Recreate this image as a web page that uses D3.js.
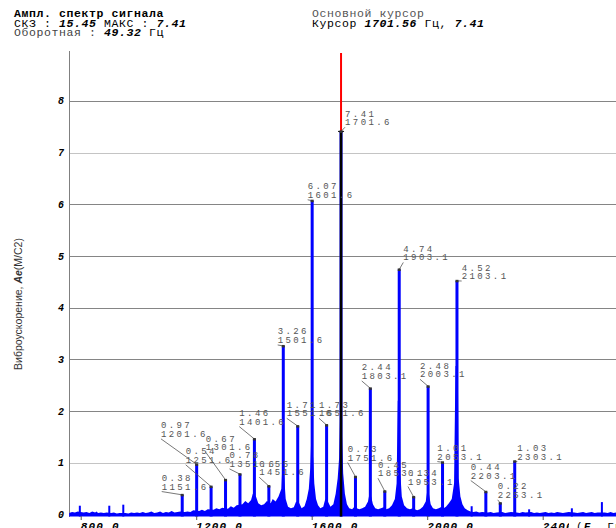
<!DOCTYPE html>
<html>
<head>
<meta charset="utf-8">
<script src="https://cdn.jsdelivr.net/npm/d3@7"></script>
<style>
  body { margin: 0; background: #fff; }
  svg { display: block; }
</style>
</head>
<body>
<script>
var width = 616,
    height = 528;

// labelled harmonics (Hz, m/s2)
var peakFreq = [1151.6, 1201.6, 1251.6, 1301.6, 1351.6, 1401.6, 1451.6, 1501.6, 1551.6, 1601.6, 1651.6, 1701.6,
                1751.6, 1803.1, 1853.1, 1903.1, 1953.1, 2003.1, 2053.1, 2103.1, 2203.1, 2253.1, 2303.1];
var peakAmp = [0.38, 0.97, 0.54, 0.67, 0.78, 1.46, 0.55, 3.26, 1.71, 6.07, 1.73, 7.41,
               0.73, 2.44, 0.45, 4.74, 0.34, 2.48, 1.01, 4.52, 0.44, 0.22, 1.03];

// small unlabelled lines
var minorFreq = [797, 899, 947.5, 2154, 2353, 2501, 2605];
var minorAmp = [0.17, 0.17, 0.19, 0.16, 0.10, 0.12, 0.24];

// noise floor + skirts of the big lines
var floorFreq = [760, 770, 780, 790, 800, 810, 820, 830, 840, 850, 855, 860, 870, 880, 890, 905, 915, 925, 935,
                 955, 965, 975, 985, 995, 1005, 1015, 1025, 1035, 1045, 1055, 1065, 1075, 1085, 1095, 1105, 1115,
                 1125, 1135, 1145, 1160, 1170, 1180, 1190, 1210, 1220, 1230, 1240, 1260, 1270, 1280, 1290, 1310,
                 1320, 1330, 1340, 1360, 1370, 1380, 1390, 1396, 1407, 1415, 1425, 1435, 1445, 1458, 1465, 1475,
                 1485, 1495, 1498, 1505, 1510, 1518, 1528, 1538, 1546, 1557, 1565, 1575, 1583, 1590, 1595, 1598,
                 1605, 1609, 1615, 1622, 1630, 1640, 1647, 1656, 1665, 1675, 1683, 1690, 1695, 1698, 1705, 1709,
                 1715, 1722, 1730, 1740, 1748, 1756, 1765, 1775, 1785, 1795, 1800, 1806, 1812, 1820, 1830, 1840,
                 1849, 1858, 1868, 1878, 1888, 1894, 1898, 1905, 1907, 1912, 1920, 1930, 1940, 1950, 1957, 1965,
                 1975, 1985, 1995, 2000, 2006, 2012, 2020, 2030, 2040, 2050, 2057, 2065, 2075, 2085, 2093, 2098,
                 2106, 2109, 2115, 2122, 2130, 2140, 2150, 2160, 2170, 2180, 2190, 2210, 2220, 2230, 2240, 2260,
                 2270, 2280, 2290, 2310, 2320, 2330, 2340, 2360, 2370, 2380, 2390, 2400, 2410, 2420, 2430, 2440,
                 2450, 2460, 2470, 2480, 2490, 2510, 2520, 2530, 2540, 2550, 2560, 2570, 2580, 2590, 2615, 2625,
                 2635, 2645, 2655];
var floorAmp = [0.03, 0.05, 0.04, 0.06, 0.05, 0.04, 0.05, 0.03, 0.06, 0.04, 0.06, 0.03, 0.04, 0.03, 0.04, 0.03, 0.04, 0.02, 0.03,
                0.03, 0.02, 0.04, 0.03, 0.04, 0.03, 0.05, 0.03, 0.04, 0.06, 0.03, 0.04, 0.06, 0.03, 0.05, 0.04, 0.07,
                0.04, 0.05, 0.06, 0.05, 0.06, 0.05, 0.08, 0.07, 0.09, 0.07, 0.10, 0.09, 0.12, 0.10, 0.13, 0.11,
                0.16, 0.13, 0.18, 0.20, 0.26, 0.22, 0.28, 0.40, 0.35, 0.22, 0.18, 0.20, 0.26, 0.22, 0.30, 0.25,
                0.35, 0.50, 0.90, 0.70, 0.30, 0.15, 0.12, 0.14, 0.25, 0.22, 0.12, 0.16, 0.30, 0.50, 0.90, 1.40,
                1.10, 0.60, 0.30, 0.18, 0.12, 0.15, 0.30, 0.25, 0.15, 0.20, 0.40, 0.70, 1.10, 1.80, 1.50, 0.80,
                0.40, 0.20, 0.12, 0.10, 0.15, 0.12, 0.10, 0.12, 0.15, 0.25, 0.40, 0.35, 0.20, 0.12, 0.10, 0.12,
                0.14, 0.10, 0.12, 0.18, 0.30, 0.60, 2.20, 2.20, 0.80, 0.35, 0.18, 0.12, 0.10, 0.12, 0.10, 0.08,
                0.10, 0.15, 0.25, 0.45, 0.40, 0.20, 0.12, 0.10, 0.12, 0.15, 0.12, 0.15, 0.22, 0.30, 0.60, 2.87,
                2.87, 0.70, 0.35, 0.20, 0.12, 0.08, 0.06, 0.05, 0.06, 0.04, 0.05, 0.04, 0.05, 0.03, 0.04, 0.05,
                0.03, 0.04, 0.05, 0.04, 0.03, 0.05, 0.04, 0.05, 0.03, 0.04, 0.03, 0.04, 0.05, 0.03, 0.04, 0.03,
                0.05, 0.04, 0.03, 0.04, 0.05, 0.04, 0.03, 0.04, 0.05, 0.03, 0.04, 0.05, 0.03, 0.04, 0.04, 0.03,
                0.05, 0.03, 0.04];

// label placement, px offset of the label from the line top (left edge, second baseline)
var labelDx = [-20.5, -35.7, -25.4, -19.8, -10.5, -15.1, -9.6, -5.6, -11, -4.5, -7.6, 4,
               -7.8, -8.6, -6.8, 4.1, -5.7, -8.1, -5.2, 4.7, -15.1, -2.6, 2.6];
var labelDy = [-5.3, -27.5, -23.8, -29.6, -7.3, -14.4, -10.8, -3, -9.8, -2.9, -8.8, -6.2,
               -16.2, -9.4, -15, -9, -12.4, -9, -2.7, -1.8, -13.2, -5.3, -1.7];

var yTicks = [0, 1, 2, 3, 4, 5, 6, 7, 8];
var xTicks = [800, 1200, 1600, 2000, 2400];
var cursorFreq = 1701.6, cursorAmp = 7.41;

var mono = "'Liberation Mono', 'Courier New', monospace",
    sans = "'Liberation Sans', Arial, sans-serif";

var x = d3.scaleLinear().domain([800, 2400]).range([80.7, 542.7]);
var y = d3.scaleLinear().domain([0, 8]).range([514.5, 100.9]);
var plotLeft = 69, plotTop = 53, plotRight = width;

var svg = d3.select("body").append("svg")
    .attr("width", width)
    .attr("height", height);

// header
var head = svg.append("g")
    .attr("font-family", mono)
    .attr("font-size", 11.5)
    .attr("letter-spacing", 0.6)
    .attr("xml:space", "preserve")
    .style("white-space", "pre");

function line(xp, yp, parts) {
    var t = head.append("text").attr("x", xp).attr("y", yp);
    parts.forEach(function (p) {
        t.append("tspan")
            .attr("font-weight", p[1] ? "bold" : "normal")
            .attr("font-style", p[2] ? "italic" : "normal")
            .attr("fill", p[3] || "#000")
            .text(p[0]);
    });
}
line(14, 16.5, [["Ампл. спектр  сигнала", 1]]);
line(14, 26.5, [["СКЗ : "], ["15.45", 1, 1], [" МАКС : "], ["7.41", 1, 1]]);
line(14, 36, [["Оборотная : ", 0, 0, "#444"], ["49.32", 1, 1], [" Гц"]]);
line(312, 16.5, [["Основной  курсор", 0, 0, "#555"]]);
line(312, 26.5, [["Курсор  "], ["1701.56", 1, 1], [" Гц,  "], ["7.41", 1, 1]]);

// grid
svg.append("g").selectAll("line")
    .data(yTicks.filter(function (d) { return d > 0; }))
    .enter().append("line")
    .attr("x1", plotLeft).attr("x2", plotRight)
    .attr("y1", function (d) { return Math.round(y(d)) + 0.5; })
    .attr("y2", function (d) { return Math.round(y(d)) + 0.5; })
    .attr("stroke", function (d) { return (d == 1 || d == 7) ? "#c4c4c4" : "#858585"; })
    .attr("stroke-width", 1);

svg.append("line")
    .attr("x1", plotLeft + 0.5).attr("x2", plotLeft + 0.5)
    .attr("y1", 51).attr("y2", 517)
    .attr("stroke", "#808080");

// y tick labels
svg.append("g").selectAll("text")
    .data(yTicks)
    .enter().append("text")
    .attr("x", 64)
    .attr("y", function (d) { return y(d) + 3.5; })
    .attr("text-anchor", "end")
    .attr("font-family", mono)
    .attr("font-size", 10)
    .attr("font-weight", "bold")
    .attr("font-style", "italic")
    .text(function (d) { return d; });

// y title
svg.append("text")
    .attr("transform", "translate(22,304) rotate(-90)")
    .attr("text-anchor", "middle")
    .attr("font-family", sans)
    .attr("font-size", 10.5)
    .attr("fill", "#333")
    .call(function (t) {
        t.append("tspan").text("Виброускорение, ");
        t.append("tspan").attr("font-weight", "bold").attr("font-style", "italic").text("Ae");
        t.append("tspan").text("(M/C2)");
    });

// spectrum
var floor = floorFreq.map(function (f, i) { return [f, floorAmp[i]]; });
var area = d3.area()
    .x(function (d) { return x(d[0]); })
    .y0(y(0) + 2)
    .y1(function (d) { return y(d[1]); });

var spec = svg.append("g");
spec.append("path")
    .datum(floor)
    .attr("d", area)
    .attr("fill", "#0000ff");

spec.selectAll(".minor")
    .data(minorFreq)
    .enter().append("rect")
    .attr("class", "minor")
    .attr("x", function (d) { return x(d) - 1; })
    .attr("width", 2)
    .attr("y", function (d, i) { return y(minorAmp[i]); })
    .attr("height", function (d, i) { return y(0) + 2 - y(minorAmp[i]); })
    .attr("fill", "#0000ff");

spec.selectAll(".peak")
    .data(peakFreq)
    .enter().append("rect")
    .attr("class", "peak")
    .attr("x", function (d) { return x(d) - 1.5; })
    .attr("width", 3)
    .attr("y", function (d, i) { return y(peakAmp[i]); })
    .attr("height", function (d, i) { return y(0) + 2 - y(peakAmp[i]); })
    .attr("fill", "#0000ff");

// cursor
svg.append("line")
    .attr("x1", x(cursorFreq)).attr("x2", x(cursorFreq))
    .attr("y1", plotTop).attr("y2", y(cursorAmp))
    .attr("stroke", "#ff0000").attr("stroke-width", 2);
svg.append("line")
    .attr("x1", x(cursorFreq)).attr("x2", x(cursorFreq))
    .attr("y1", y(cursorAmp)).attr("y2", y(0) + 2)
    .attr("stroke", "#000").attr("stroke-width", 2.5);
svg.append("line")
    .attr("x1", x(cursorFreq) - 3).attr("x2", x(cursorFreq) + 3)
    .attr("y1", y(cursorAmp)).attr("y2", y(cursorAmp))
    .attr("stroke", "#000").attr("stroke-width", 1);

// peak labels
var lab = svg.append("g");
peakFreq.forEach(function (f, i) {
    var px = x(f), py = y(peakAmp[i]);
    var lx = px + labelDx[i], ly = py + labelDy[i];
    lab.append("line")
        .attr("x1", lx).attr("y1", ly + 2)
        .attr("x2", px).attr("y2", py)
        .attr("stroke", "#555").attr("stroke-width", 0.8);
    lab.append("rect")
        .attr("x", px - 1.5).attr("y", py - 1)
        .attr("width", 3).attr("height", 2.5)
        .attr("fill", "#333");
    var t = lab.append("text")
        .attr("font-family", mono)
        .attr("font-size", 9)
        .attr("letter-spacing", 2.4)
        .attr("fill", "#555");
    t.append("tspan").attr("x", lx).attr("y", ly - 8.5).text(peakAmp[i].toFixed(2));
    t.append("tspan").attr("x", lx).attr("y", ly).text(f.toFixed(1));
});

// x axis
svg.append("g").selectAll("line")
    .data(xTicks)
    .enter().append("line")
    .attr("x1", function (d) { return x(d) + 0.5; })
    .attr("x2", function (d) { return x(d) + 0.5; })
    .attr("y1", 516).attr("y2", 520)
    .attr("stroke", "#555");

svg.append("g").selectAll("text")
    .data(xTicks)
    .enter().append("text")
    .attr("x", function (d) { return x(d); })
    .attr("y", 530)
    .attr("font-family", mono)
    .attr("font-size", 11)
    .attr("letter-spacing", 1.2)
    .attr("font-weight", "bold")
    .attr("font-style", "italic")
    .text(function (d) { return d3.format(".1f")(d); });

svg.append("rect")
    .attr("x", 569).attr("y", 519)
    .attr("width", width - 569).attr("height", 12)
    .attr("fill", "#fff");
svg.append("text")
    .attr("x", 576).attr("y", 530)
    .attr("font-family", mono)
    .attr("font-size", 11)
    .attr("letter-spacing", 1.2)
    .call(function (t) {
        t.append("tspan").text("(");
        t.append("tspan").attr("font-weight", "bold").attr("font-style", "italic").text("F, ");
        t.append("tspan").text("Гц)");
    });
</script>
</body>
</html>
